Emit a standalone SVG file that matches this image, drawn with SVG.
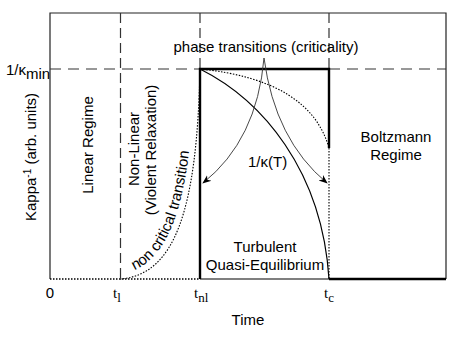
<svg xmlns="http://www.w3.org/2000/svg" width="458" height="344" viewBox="0 0 458 344">
<style>
text{font-family:"Liberation Sans",Arial,sans-serif;font-size:15px;fill:#000}
.serif{font-family:"Liberation Serif","Times New Roman",serif;font-size:15px}
.frame{fill:none;stroke:#222;stroke-width:1.2}
.dash{fill:none;stroke:#333;stroke-width:1.2;stroke-dasharray:11 7}
.thick{fill:none;stroke:#000;stroke-width:2.4}
.thin{fill:none;stroke:#000;stroke-width:1.2}
.dot{fill:none;stroke:#000;stroke-width:1.1;stroke-dasharray:1.5 1.5}
.arr{fill:none;stroke:#333;stroke-width:0.9}
</style>
<defs>
<marker id="ah" viewBox="0 0 10 10" refX="9" refY="5" markerWidth="9" markerHeight="9" markerUnits="userSpaceOnUse" orient="auto">
<path d="M0,1 L10,5 L0,9 L3,5 z" fill="#000"/>
</marker>
</defs>
<rect fill="#fff" x="0" y="0" width="458" height="344"/>
<g id="connectors">
<path class="frame" d="M50,279 L50,13 L446,13 L446,279"/>
<path class="dash" d="M50,69 L200,69"/>
<path class="dash" d="M329,69 L446,69"/>
<path class="dash" style="stroke-dasharray:10 5" d="M120.5,13 L120.5,279"/>
<path class="dash" style="stroke-dasharray:10 5" d="M200,13 L200,69"/>
<path class="dash" style="stroke-dasharray:10 5" d="M329,13 L329,69"/>
<path class="thick" d="M200,279 L200,69 L329,69 L329,148"/>
<path class="thick" d="M329,279 L446,279"/>
<path class="thin" d="M200,279 L329,279"/>
<path class="dot" style="stroke-width:1.6" d="M50,279 L200,279"/>
<path class="dot" d="M329,148 L329,279"/>
<path class="dot" d="M120,279 C175,275 197,210 200,69"/>
<path class="dot" d="M200,69 Q310,80 329,148"/>
<path class="thin" d="M200,69 C262,100 322,170 329,279"/>
<path class="arr" d="M264,58 Q257,140 203,183" marker-end="url(#ah)"/>
<path class="arr" d="M264,58 Q275,140 327,183" marker-end="url(#ah)"/>
<path id="nctpath" fill="none" d="M121,274 C167,267 190,207 193,90"/>
</g>
<g id="label-phase"><text x="266" y="52" text-anchor="middle">phase transitions (criticality)</text></g>
<g id="label-kmin"><text x="6" y="75">1/κ<tspan dy="4">min</tspan></text></g>
<g id="label-yaxis"><text transform="translate(36,157) rotate(-90)" text-anchor="middle" font-size="14.5">Kappa<tspan dy="-5" font-size="10">-1</tspan><tspan dy="5"> (arb. units)</tspan></text></g>
<g id="label-linear"><text transform="translate(93,145) rotate(-90)" text-anchor="middle">Linear Regime</text></g>
<g id="label-nonlinear"><text transform="translate(139,149) rotate(-90)" text-anchor="middle">Non-Linear</text><text transform="translate(156,150) rotate(-90)" text-anchor="middle">(Violent Relaxation)</text></g>
<g id="label-noncritical"><text font-size="14.5"><textPath href="#nctpath" startOffset="14">non critical transition</textPath></text></g>
<g id="label-kT"><text x="248" y="167">1/κ(T)</text></g>
<g id="label-turbulent"><text x="265" y="252" text-anchor="middle">Turbulent</text><text x="265" y="270" text-anchor="middle">Quasi-Equilibrium</text></g>
<g id="label-boltzmann"><text x="396" y="142" text-anchor="middle">Boltzmann</text><text x="396" y="160" text-anchor="middle">Regime</text></g>
<g id="ticks">
<text x="50" y="298" text-anchor="middle">0</text>
<text class="serif" x="113" y="298">t<tspan dy="4" font-size="13">l</tspan></text>
<text class="serif" x="194" y="298">t<tspan dy="4" font-size="13">nl</tspan></text>
<text class="serif" x="324" y="298">t<tspan dy="4" font-size="13">c</tspan></text>
</g>
<g id="label-time"><text x="248" y="325" text-anchor="middle">Time</text></g>
</svg>
